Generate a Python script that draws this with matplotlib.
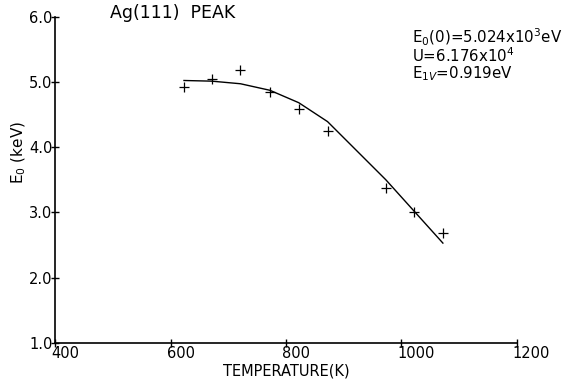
import matplotlib
matplotlib.use("Agg")
import matplotlib.pyplot as plt
from matplotlib.transforms import ScaledTranslation

# Measured data points (temperature in K, E0 in keV)
temp_pts = [623, 671, 721, 772, 822, 872, 973, 1022, 1072]
e0_pts = [4.92, 5.04, 5.18, 4.85, 4.59, 4.25, 3.37, 3.01, 2.69]

# Fitted curve
temp_fit = [623, 671, 721, 772, 822, 872, 973, 1022, 1072]
e0_fit = [5.02, 5.01, 4.97, 4.87, 4.68, 4.39, 3.50, 3.02, 2.53]

x_ticks = [400, 600, 800, 1000, 1200]
y_ticks = [1.0, 2.0, 3.0, 4.0, 5.0, 6.0]
y_ticklabels = ["1.0", "2.0", "3.0", "4.0", "5.0", "6.0"]

title_text = "Ag(111)  PEAK"
anno_lines = [r"E$_0$(0)=5.024x10$^3$eV", r"U=6.176x10$^4$", r"E$_{1V}$=0.919eV"]

plt.rcParams['font.family'] = ['DejaVu Sans']
plt.rcParams['mathtext.fontset'] = 'dejavusans'

fig = plt.figure(figsize=(5.74, 3.81), dpi=100)
ax = fig.add_axes([55.4/574, 38/381, (516.7-55.4)/574, (343-16.5)/381])

ax.plot(temp_fit, e0_fit, color='black', lw=1.0)
ax.plot(temp_pts, e0_pts, linestyle='none', marker='+', color='black',
        markersize=6.5, markeredgewidth=0.9)

ax.set_xlim(400, 1200)
ax.set_ylim(1.0, 6.0)
ax.set_xticks(x_ticks)
ax.set_xticklabels([str(t) for t in x_ticks])
ax.set_yticks(y_ticks)
ax.set_yticklabels(y_ticklabels)

for s in ['top', 'right']:
    ax.spines[s].set_visible(False)
for s in ['left', 'bottom']:
    ax.spines[s].set_linewidth(1.2)

ax.tick_params(axis='y', direction='inout', length=6, width=1, pad=-1, labelsize=10.5)
ax.tick_params(axis='x', direction='inout', length=6, width=1, pad=-1, labelsize=10.5)

shift = ScaledTranslation(-4/100, 0, fig.dpi_scale_trans)
for lab in ax.get_xticklabels():
    lab.set_ha('left')
    lab.set_transform(lab.get_transform() + shift)

ax.set_xlabel("TEMPERATURE(K)", fontsize=10.5, labelpad=2)
ax.set_ylabel(r"E$_0$ (keV)", fontsize=11)
ax.yaxis.set_label_coords(-0.059, 0.585)

fig.text(110/574, 1 - 13/381, title_text, fontsize=12.5, va='center', ha='left')
ys = [37, 56, 74]
for line, y in zip(anno_lines, ys):
    fig.text(412/574, 1 - y/381, line, fontsize=10.8, va='center', ha='left')

fig.savefig("out.png", dpi=100)
